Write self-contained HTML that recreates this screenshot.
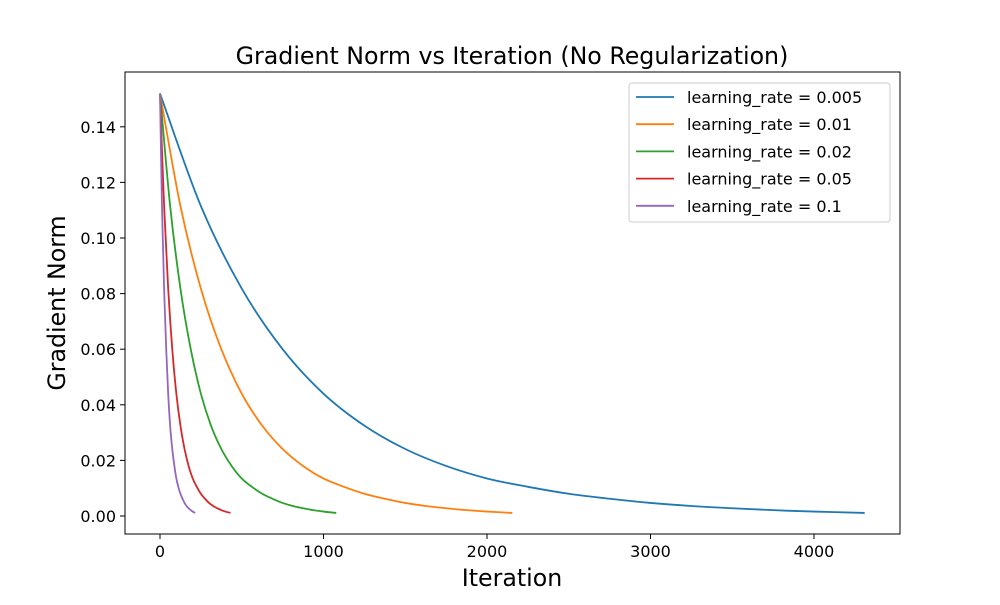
<!DOCTYPE html>
<html><head><meta charset="utf-8"><style>
body{margin:0;background:#fff;}
svg text{font-family:"DejaVu Sans","Liberation Sans",sans-serif;fill:#000;}
</style></head><body>
<svg id="chart" width="1000" height="600" viewBox="0 0 1000 600" xmlns="http://www.w3.org/2000/svg">
<rect width="1000" height="600" fill="#fff"/>
<text x="512" y="64" font-size="23.7" text-anchor="middle">Gradient Norm vs Iteration (No Regularization)</text>
<g id="ticks"></g>
<g id="series"></g>
<rect x="125" y="72" width="775" height="462" fill="none" stroke="#000" stroke-width="1"/>
<text x="512" y="586" font-size="23.7" text-anchor="middle">Iteration</text>
<text transform="translate(65,303) rotate(-90)" font-size="23.7" text-anchor="middle">Gradient Norm</text>
<g id="legend">
<rect x="629" y="83" width="261" height="139" rx="3" fill="#fff" stroke="#ccc"/>
</g>
</svg>
<script>
const xTicks=[0,1000,2000,3000,4000];
const yTicks=[0.00,0.02,0.04,0.06,0.08,0.10,0.12,0.14];
const seriesLabels=["learning_rate = 0.005","learning_rate = 0.01","learning_rate = 0.02","learning_rate = 0.05","learning_rate = 0.1"];
const colors=["#1f77b4","#ff7f0e","#2ca02c","#d62728","#9467bd"];
const normValues=[0.152,0.1115,0.0818,0.0600,0.0440,0.0325,0.0241,0.0180,0.0135,0.0105,0.0080,0.0062,0.0047,0.0036,0.0028,0.0021,0.0016,0.0011];
const iterBlue=[0,250,500,750,1000,1250,1500,1750,2000,2250,2500,2750,3000,3250,3500,3750,4000,4310];
const iterOrange=[0,125,250,375,500,625,750,875,1000,1125,1250,1375,1500,1625,1750,1875,2000,2155];
const iterGreen=[0,62,125,188,250,312,375,438,500,562,625,688,750,812,875,938,1000,1078];
const iterRed=[0,25,50,75,100,125,150,175,200,225,250,275,300,325,350,375,400,431];
const iterPurple=[0,12,25,38,50,62,75,88,100,112,125,138,150,162,175,188,200,215];
const iters=[iterBlue,iterOrange,iterGreen,iterRed,iterPurple];
const NS="http://www.w3.org/2000/svg";
const X=v=>160+v*0.1635;
const Y=v=>516-v*2780;
function mk(tag,attrs,parent){const e=document.createElementNS(NS,tag);for(const k in attrs)e.setAttribute(k,attrs[k]);parent.appendChild(e);return e;}
const tg=document.getElementById('ticks');
xTicks.forEach(t=>{
  const l=mk('line',{x1:X(t),x2:X(t),y1:534,y2:539,stroke:'#000'},tg);
  
  
  const tx=mk('text',{x:X(t),y:557,'font-size':'16','text-anchor':'middle'},tg);
  
  
  tx.textContent=t;
});
yTicks.forEach(t=>{
  const l=mk('line',{x1:120,x2:125,y1:Y(t),y2:Y(t),stroke:'#000'},tg);
  
  
  const tx=mk('text',{x:116,y:Y(t)+6,'font-size':'16','text-anchor':'end'},tg);
  
  
  tx.textContent=t.toFixed(2);
});
const sg=document.getElementById('series');
iters.forEach((it,i)=>{
  const pts=it.map((v,j)=>[X(v),Y(normValues[j])]);
  let d='M'+pts[0][0]+','+pts[0][1];
  for(let j=0;j<pts.length-1;j++){
    const p0=pts[Math.max(0,j-1)],p1=pts[j],p2=pts[j+1],p3=pts[Math.min(pts.length-1,j+2)];
    const c1=[p1[0]+(p2[0]-p0[0])/6,p1[1]+(p2[1]-p0[1])/6];
    const c2=[p2[0]-(p3[0]-p1[0])/6,p2[1]-(p3[1]-p1[1])/6];
    d+=` C${c1[0]},${c1[1]} ${c2[0]},${c2[1]} ${p2[0]},${p2[1]}`;
  }
  const p=mk('path',{d:d,fill:'none',stroke:colors[i],'stroke-width':'1.8'},sg);
  
  
});
const lg=document.getElementById('legend');
seriesLabels.forEach((s,i)=>{
  const y=97+i*27.2;
  const l=mk('line',{x1:636,x2:674,y1:y,y2:y,stroke:colors[i],'stroke-width':'1.8'},lg);
  
  
  const t=mk('text',{x:687,y:y+6,'font-size':'16'},lg);
  
  
  t.textContent=s;
});
</script>
</body></html>
